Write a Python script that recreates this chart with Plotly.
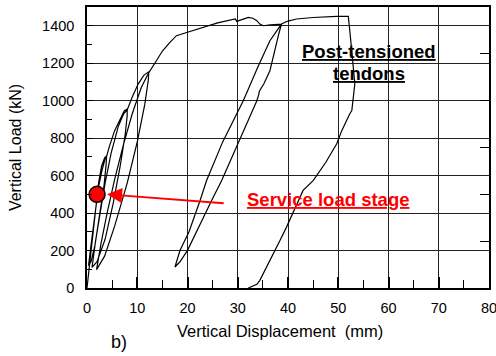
import plotly.graph_objects as go

# Hysteresis curve (vertical displacement in mm, vertical load in kN)
disp = [
    0.0, 0.6, 1.2, 1.8, 2.3, 2.9, 3.5, 3.9,
    3.8, 3.4, 2.6, 1.6, 0.8, 0.3,
    0.9, 1.6, 2.3, 3.0, 3.6, 3.9,
    4.5, 5.5, 6.5, 7.4, 8.0,
    8.0, 7.6, 6.6, 5.2, 3.6, 2.0, 1.0,
    1.7, 2.6, 3.6, 4.8, 6.2, 7.3, 8.0,
    9.0, 10.2, 11.3, 12.3,
    12.2, 11.5, 10.0, 8.0, 5.5, 3.5, 1.9,
    2.8, 4.0, 5.5, 7.2, 9.0, 10.8, 12.3,
    13.5, 15.0, 16.5, 17.8, 20.0, 23.0, 26.0, 29.5, 29.8, 30.5, 32.1, 33.0, 33.8, 34.4, 35.1, 36.5, 38.7,
    38.2, 37.5, 36.4, 35.2, 34.3, 34.2, 33.8, 31.5, 29.0, 26.8, 24.8, 22.4, 20.0, 18.5, 17.5,
    18.5, 20.3, 22.5, 23.8, 27.0, 31.1, 34.0, 36.4, 38.7,
    40.0, 41.7, 45.0, 49.7, 52.0,
    52.3, 53.0, 53.3, 52.7, 52.3, 50.7, 49.7, 47.5, 45.0, 43.0, 41.5, 39.7, 38.4, 36.8, 35.8, 34.4, 33.8, 32.1,
]
load = [
    0, 150, 300, 450, 560, 650, 695, 705,
    660, 550, 400, 230, 140, 120,
    250, 400, 540, 630, 690, 703,
    760, 840, 900, 945, 956,
    920, 820, 650, 450, 260, 140, 110,
    250, 400, 560, 720, 860, 930, 950,
    1020, 1090, 1135, 1155,
    1110, 980, 780, 560, 330, 170, 98,
    240, 400, 580, 760, 930, 1070, 1150,
    1200, 1265, 1311, 1347, 1365, 1390, 1415, 1436, 1423, 1430, 1444, 1440, 1427, 1409, 1400, 1405, 1409,
    1360, 1280, 1160, 1090, 1050, 1035, 1000, 860, 710, 574, 467, 330, 201, 140, 112,
    200, 300, 467, 574, 780, 1000, 1180, 1320, 1409,
    1425, 1436, 1444, 1450, 1450,
    1373, 1178, 1090, 947, 930, 840, 770, 670, 573, 521, 430, 325, 254, 170, 112, 41, 20, 0,
]

service_disp = [2.0]
service_load = [500]

x_ticks = [0, 10, 20, 30, 40, 50, 60, 70, 80]
y_ticks = [0, 200, 400, 600, 800, 1000, 1200, 1400]

FONT = "Arial, Liberation Sans, sans-serif"

fig = go.Figure()
fig.add_trace(go.Scatter(x=disp, y=load, mode="lines",
                         line=dict(color="black", width=1.2), showlegend=False,
                         hoverinfo="skip"))
fig.add_trace(go.Scatter(x=service_disp, y=service_load, mode="markers",
                         marker=dict(size=16, color="#ff0000",
                                     line=dict(color="black", width=1.5)),
                         showlegend=False))
fig.add_trace(go.Scatter(x=[None], y=[None], yaxis="y2", showlegend=False,
                         hoverinfo="skip"))

fig.update_layout(
    width=496, height=356,
    margin=dict(l=87, r=7, t=7, b=68),
    paper_bgcolor="white", plot_bgcolor="rgba(0,0,0,0)",
    font=dict(family=FONT, size=14, color="black"),
    xaxis=dict(range=[0, 80], tickvals=x_ticks, ticktext=[str(v) for v in x_ticks],
               showgrid=True, gridcolor="#222", gridwidth=1,
               showline=True, linecolor="black", linewidth=1.5, mirror=True,
               ticks="inside", ticklen=11, tickcolor="black", tickwidth=1.5,
               minor=dict(dtick=5, tick0=0, ticks="inside", ticklen=8,
                          tickcolor="black", tickwidth=1.2, showgrid=False),
               zeroline=False, ticklabelstandoff=6, automargin=False,
               ticklabeloverflow="allow",
               tickfont=dict(size=14.5)),
    yaxis=dict(range=[0, 1500], tickvals=y_ticks, ticktext=[str(v) for v in y_ticks],
               showgrid=True, gridcolor="#222", gridwidth=1,
               showline=True, linecolor="black", linewidth=1.5, mirror=True,
               ticks="inside", ticklen=6, tickcolor="black", tickwidth=1.2,
               minor=dict(dtick=100, tick0=0, ticks="inside", ticklen=5,
                          tickcolor="black", tickwidth=1.2, showgrid=False),
               zeroline=False, ticklabelstandoff=8, automargin=False,
               ticklabeloverflow="allow",
               title=dict(text="Vertical Load (kN)", font=dict(size=16), standoff=16),
               tickfont=dict(size=14.5)),
    yaxis2=dict(range=[0, 1500], overlaying="y", side="right", anchor="x",
                dtick=250, tick0=0, ticks="inside", ticklen=9, tickcolor="black",
                tickwidth=1.2, showticklabels=False, showgrid=False,
                zeroline=False, showline=False, automargin=False),
)

fig.add_annotation(text="Vertical Displacement  (mm)", xref="paper", yref="paper",
                   x=0.480, y=-0.153, showarrow=False, font=dict(size=16.5),
                   xanchor="center", yanchor="middle")
fig.add_annotation(text="b)", xref="paper", yref="paper",
                   x=0.0796, y=-0.192, showarrow=False, font=dict(size=18),
                   xanchor="center", yanchor="middle")
fig.add_annotation(text="<b><u>Post-tensioned</u></b>", xref="x", yref="y",
                   x=56.1, y=1261, showarrow=False, font=dict(size=18.5, color="black"),
                   xanchor="center", yanchor="middle")
fig.add_annotation(text="<b><u>tendons</u></b>", xref="x", yref="y",
                   x=56.1, y=1144, showarrow=False, font=dict(size=18.5, color="black"),
                   xanchor="center", yanchor="middle")
fig.add_annotation(text="<b><u>Service load stage</u></b>", xref="x", yref="y",
                   x=48.0, y=472, showarrow=False, font=dict(size=18.5, color="#ff0000"),
                   xanchor="center", yanchor="middle")
fig.add_annotation(x=4.0, y=500, ax=27.5, ay=452, xref="x", yref="y",
                   axref="x", ayref="y", text="", showarrow=True,
                   arrowhead=2, arrowsize=1.5, arrowwidth=2, arrowcolor="#ff0000")

fig.write_html("out.html", config={"displayModeBar": False},
               post_script="document.body.style.margin='0';document.body.style.padding='0';")
